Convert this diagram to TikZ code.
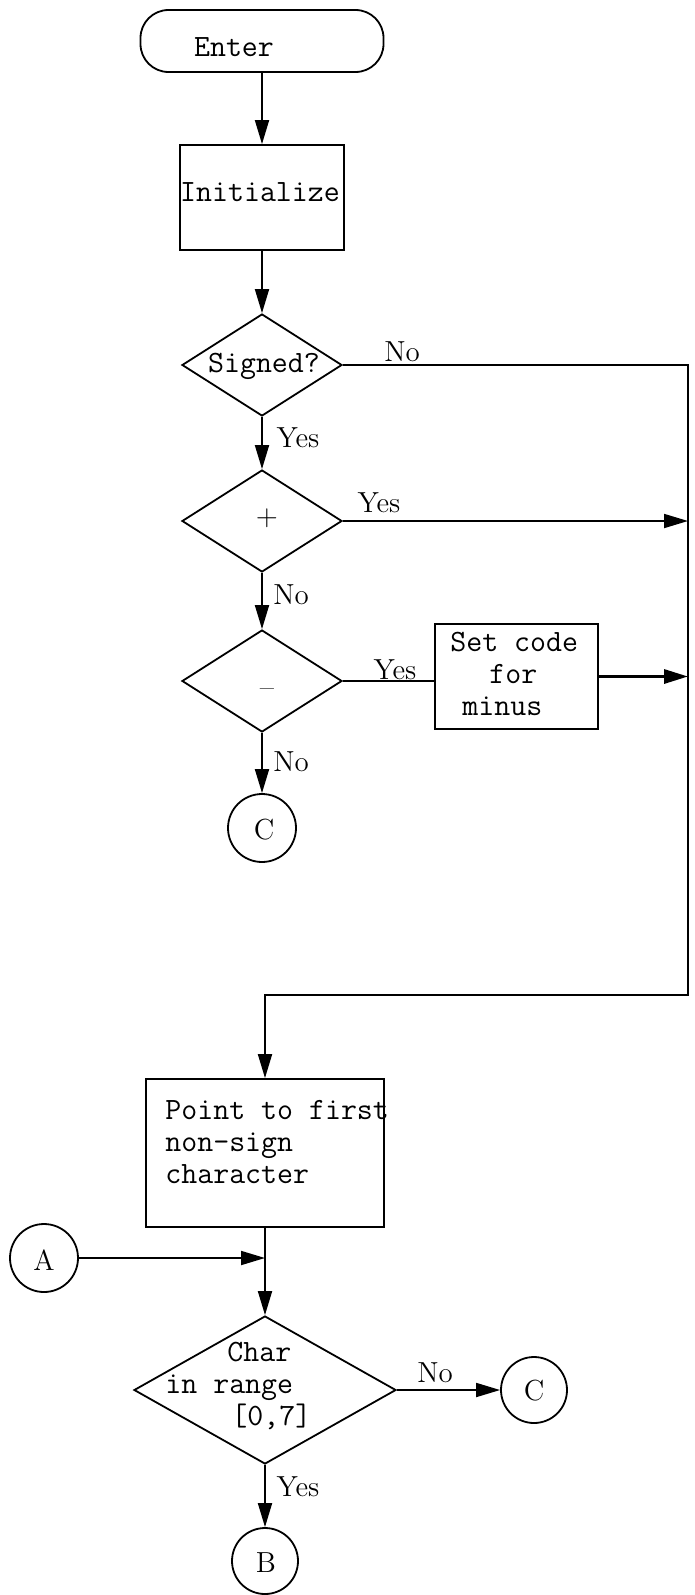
\documentclass[tikz,border=0pt]{standalone}
\usetikzlibrary{arrows.meta,shapes.geometric}
\begin{document}
\begin{tikzpicture}[x=0.5pt,y=-0.5pt,
  ln/.style={line width=0.9pt},
  arr/.style={line width=0.9pt,-{Triangle[length=12pt,width=7pt]}},
  dia/.style={draw,diamond,line width=0.9pt,inner sep=0pt,minimum width=80pt,minimum height=51pt},
  box/.style={draw,rectangle,line width=0.9pt,inner sep=0pt},
  conn/.style={draw,circle,line width=0.9pt,inner sep=0pt,minimum size=34pt},
  tt/.style={font=\fontsize{15.5}{16}\selectfont\ttfamily,inner sep=0pt},
  lbl/.style={font=\fontsize{14.5}{16}\selectfont\rmfamily,inner sep=0pt}]
\useasboundingbox (0,0) rectangle (695,1595);
% top column
\node[box,rounded corners=14pt,minimum width=121.5pt,minimum height=31pt] (enter) at (262,41) {};
\node[tt] (entert) at (234,47) {Enter};
\node[box,minimum width=82pt,minimum height=52.5pt] (init) at (262,197.5) {};
\node[tt] (initt) at (260,192) {Initialize};
\node[dia] (sgn) at (262,365) {};
\node[tt] (sgnt) at (264,366) {Signed?};
\node[dia] (plus) at (262,521) {};
\node[lbl] (plust) at (267,518) {+};
\node[dia] (minus) at (262,681) {};
\node[lbl] (minust) at (267,692) {\textendash};
\node[conn] (c1) at (262,828) {};
\node[lbl] (c1t) at (264,830) {C};
\node[box,minimum width=81.5pt,minimum height=52.5pt] (setc) at (516.5,676.5) {};
\node[tt,align=left,anchor=north west] (setct) at (450,632) {Set code\\\hspace*{19.5pt}for\\\hspace*{6pt}minus};
% right loop
\coordinate (rt) at (688,365);
\coordinate (rb) at (688,995);
\coordinate (lb) at (265,995);
% bottom column
\node[box,minimum width=119pt,minimum height=74pt] (pbox) at (265,1153) {};
\node[tt,align=left,anchor=north west] (pboxt) at (165,1100) {Point to first\\non-sign\\character};
\coordinate (jn) at (265,1258);
\node[conn] (A) at (44,1258) {};
\node[lbl] (At) at (44,1260) {A};
\node[dia,minimum width=131pt,minimum height=74pt] (chr) at (265,1390) {};
\node[tt,align=left,anchor=north west] (chrt) at (165,1342) {\hspace*{31pt}Char\\in range\\\hspace*{33pt}[0,7]};
\node[conn,minimum size=33pt] (c2) at (534,1390) {};
\node[lbl] (c2t) at (534,1391) {C};
\node[conn,minimum size=33pt] (B) at (265,1561) {};
\node[lbl] (Bt) at (266,1563) {B};
% connectors
\draw[arr] (enter) -- (init);
\draw[arr] (init) -- (sgn);
\draw[arr] (sgn) -- (plus);
\draw[arr] (plus) -- (minus);
\draw[arr] (minus) -- (c1);
\draw[arr] (sgn.east) -- (rt) -- (rb) -- (lb) -- (pbox.north);
\draw[arr] (plus.east) -- (plus.east -| rt);
\draw[ln] (minus.east) -- (minus.east -| setc.west);
\draw[line width=1.6pt,-{Triangle[length=12pt,width=7pt]}] (setc.east) -- (setc.east -| rt);
\draw[arr] (pbox) -- (chr);
\draw[arr] (A) -- (jn);
\draw[arr] (chr) -- (c2);
\draw[arr] (chr) -- (B);
% labels
\node[lbl] (l1) at (402,352) {No};
\node[lbl] (l2) at (298,438) {Yes};
\node[lbl] (l3) at (379,503) {Yes};
\node[lbl] (l4) at (291,595) {No};
\node[lbl] (l5) at (395,670) {Yes};
\node[lbl] (l6) at (291,762) {No};
\node[lbl] (l7) at (435,1373) {No};
\node[lbl] (l8) at (298,1487) {Yes};
\end{tikzpicture}
\end{document}
